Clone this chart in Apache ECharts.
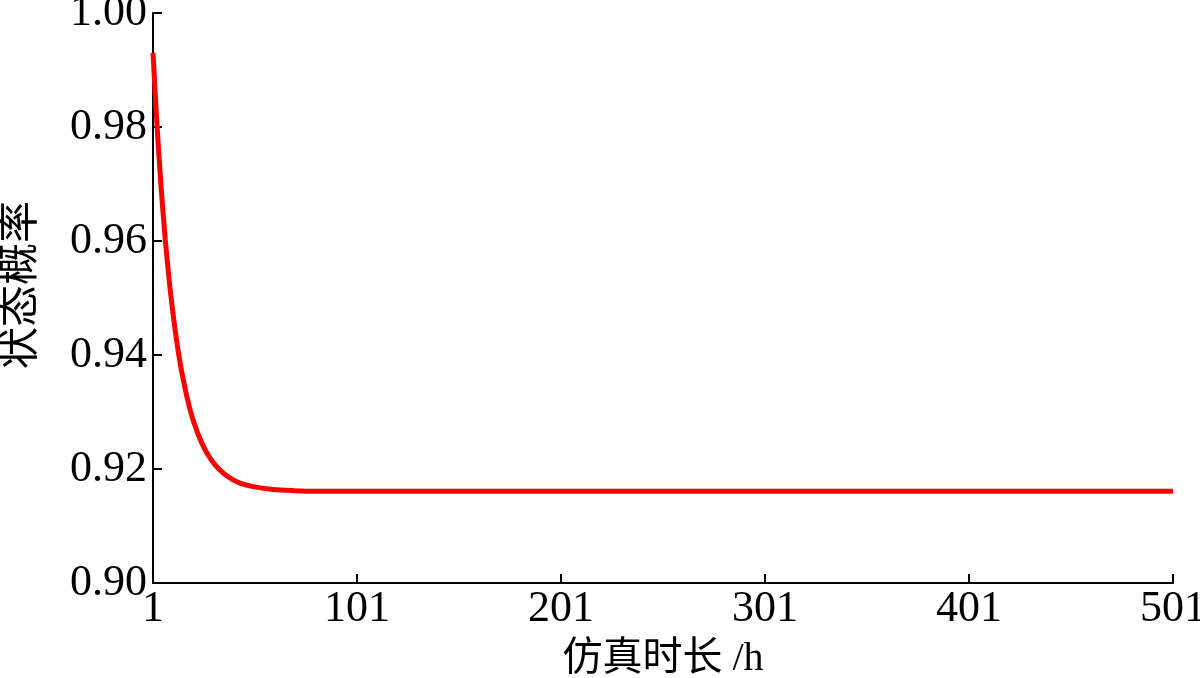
<!DOCTYPE html>
<html>
<head>
<meta charset="utf-8">
<script src="https://cdn.jsdelivr.net/npm/echarts@6/dist/echarts.min.js"></script>
<style>html,body{margin:0;padding:0;background:#fff;}#c{width:1200px;height:678px;}</style>
</head>
<body>
<div id="c"></div>
<script>
// Data
const hours = [1, 3, 5, 7, 9, 11, 13, 15, 18, 21, 25, 29, 33, 38, 43, 50, 60, 70, 80, 100, 150, 200, 300, 400, 501];
const probability = [0.9930, 0.9801, 0.9693, 0.9603, 0.9529, 0.9467, 0.9415, 0.9372, 0.9321, 0.9282, 0.9245, 0.9219, 0.9201, 0.9186, 0.9176, 0.9169, 0.9164, 0.9162, 0.9161, 0.9161, 0.9161, 0.9161, 0.9161, 0.9161, 0.9161];
const xTicks = [1, 101, 201, 301, 401, 501];
const yTicks = ['0.90', '0.92', '0.94', '0.96', '0.98', '1.00'];
const xName = '仿真时长 /h';
const yName = '状态概率';

const serif = '"Liberation Serif", "Noto Sans CJK SC", serif';
const chart = echarts.init(document.getElementById('c'), null, {renderer: 'canvas'});
chart.setOption({
  animation: false,
  backgroundColor: '#fff',
  grid: {left: 153, right: 27, top: 13, bottom: 95, containLabel: false, outerBoundsMode: 'none'},
  xAxis: {
    type: 'value', min: 1, max: 501, interval: 100,
    name: xName, nameLocation: 'middle', nameGap: 56,
    nameTextStyle: {fontFamily: serif, fontSize: 40, color: '#000'},
    axisLine: {show: true, lineStyle: {color: '#000', width: 2}},
    axisTick: {show: true, inside: true, length: 9, lineStyle: {color: '#000', width: 2}},
    axisLabel: {fontFamily: serif, fontSize: 44, color: '#000', margin: 4,
      formatter: v => xTicks.includes(v) ? String(v) : ''},
    splitLine: {show: false}
  },
  yAxis: {
    type: 'value', min: 0.90, max: 1.00, interval: 0.02,
    name: yName, nameLocation: 'middle', nameGap: 110, nameRotate: 90,
    nameTextStyle: {fontFamily: serif, fontSize: 42, color: '#000', padding: [0, 0, 0, 26]},
    axisLine: {show: true, lineStyle: {color: '#000', width: 2}},
    axisTick: {show: true, inside: true, length: 9, lineStyle: {color: '#000', width: 2}},
    axisLabel: {fontFamily: serif, fontSize: 44, color: '#000', margin: 6,
      formatter: v => yTicks[Math.round((v - 0.90) / 0.02)]},
    splitLine: {show: false}
  },
  series: [{
    type: 'line', smooth: 0.3, showSymbol: false,
    data: hours.map((h, i) => [h, probability[i]]),
    lineStyle: {color: '#ff0000', width: 5},
    itemStyle: {color: '#ff0000'}
  }]
});
</script>
</body>
</html>
